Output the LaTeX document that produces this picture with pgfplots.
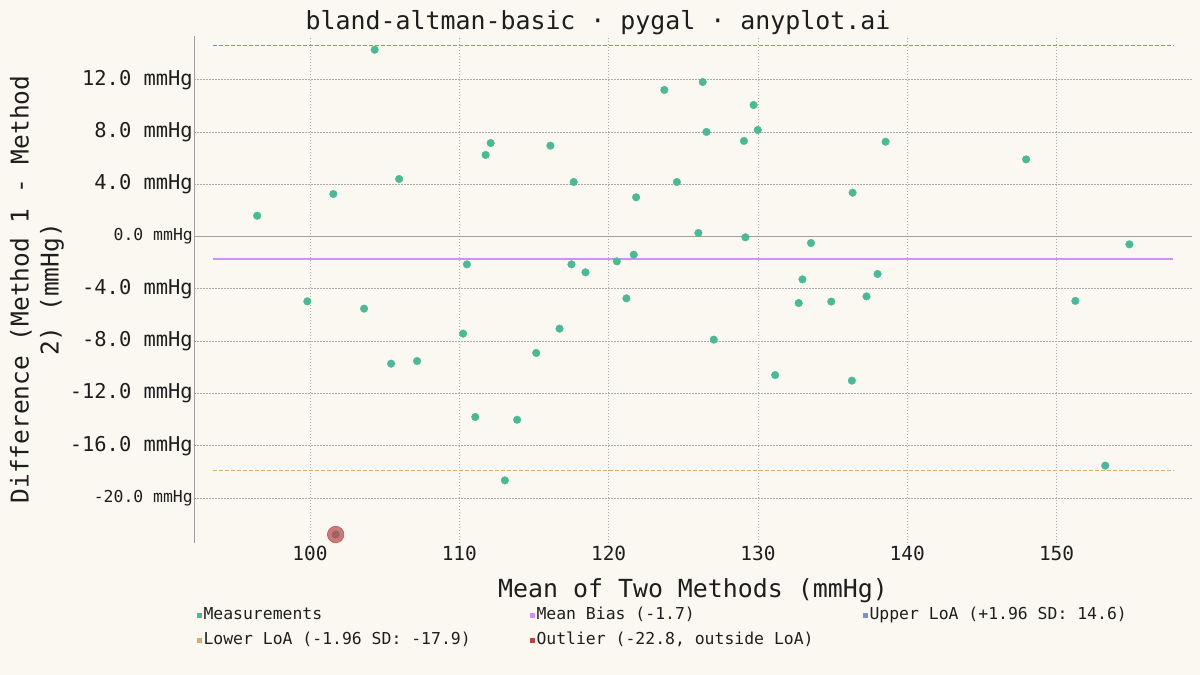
\documentclass[border=0pt]{standalone}
\usepackage{fontspec}
\setmainfont{DejaVu Sans Mono}
\usepackage{pgfplots}
\pgfplotsset{compat=1.18}

\definecolor{bg}{HTML}{FAF8F1}
\definecolor{ink}{HTML}{1E1E1E}
\definecolor{meas}{HTML}{4CB996}
\definecolor{bias}{HTML}{D090F5}
\definecolor{upper}{HTML}{7C93C0}
\definecolor{lower}{HTML}{D9AA72}
\definecolor{outl}{HTML}{B94444}
\definecolor{gridc}{HTML}{AAAAAA}
\definecolor{axisc}{HTML}{A0A0A0}

\newcommand\titlefont{\fontsize{25}{30}\selectfont}
\newcommand\ytickfont{\fontsize{20.5}{24}\selectfont}
\newcommand\ysmallfont{\fontsize{16.5}{20}\selectfont}
\newcommand\xtickfont{\fontsize{19.5}{24}\selectfont}
\newcommand\labfont{\fontsize{25}{30}\selectfont}
\newcommand\legfont{\fontsize{16.5}{20}\selectfont}

\begin{document}
\begin{tikzpicture}
\fill[bg] (0bp,0bp) rectangle (1200bp,675bp);
\node[anchor=base, font=\titlefont, text=ink] at (598bp,645bp)
  {bland-altman-basic · pygal · anyplot.ai};
\begin{axis}[
    at={(194bp,132bp)}, anchor=south west,
    width=998bp, height=507bp, scale only axis,
    xmin=92.23, xmax=159.07, ymin=-23.45, ymax=15.34,
    axis x line*=bottom, axis y line*=left,
    x axis line style={draw=none},
    y axis line style={draw=axisc, line width=1pt},
    major tick length=0pt,
    grid=major,
    grid style={draw=gridc, line width=0.8pt, dash pattern=on 1.5bp off 1.5bp},
    xtick={100,110,120,130,140,150},
    xticklabels={100,110,120,130,140,150},
    xticklabel style={font=\xtickfont, text=ink, anchor=base, inner sep=0pt, yshift=-17bp},
    ytick={-20,-16,-12,-8,-4,0,4,8,12},
    yticklabels={{\ysmallfont -20.0 mmHg},-16.0 mmHg,-12.0 mmHg,-8.0 mmHg,-4.0 mmHg,
                 {\ysmallfont 0.0 mmHg},4.0 mmHg,8.0 mmHg,12.0 mmHg},
    yticklabel style={font=\ytickfont, text=ink, anchor=east, inner sep=0pt, xshift=-1bp},
    xlabel={Mean of Two Methods (mmHg)},
    xlabel style={at={(axis description cs:0.5,0)}, anchor=base, inner sep=0pt,
                  yshift=-54bp, font=\labfont, text=ink},
    ylabel={Difference (Method 1 - Method\\2) (mmHg)},
    ylabel style={at={(axis description cs:-0.1573,0.5)}, anchor=center, align=center,
                  font=\fontsize{24.6}{30}\selectfont, text=ink},
    legend columns=3,
    legend cell align=left,
    legend style={at={(axis description cs:0,0)}, anchor=north west,
                  xshift=3bp, yshift=-64bp, draw=none, fill=none,
                  inner sep=0pt, outer sep=0pt, column sep=0pt, row sep=9bp,
                  font=\legfont, text=ink,
                  nodes={inner sep=0pt, text height=12bp, text depth=4bp}},
    legend image code/.code={
        \fill[#1, draw=none, fill opacity=1, dash pattern=on 1bp off 0bp]
          (0bp,-2.5bp) rectangle (5bp,2.5bp);},
]

% zero line
\addplot[forget plot, color=axisc, line width=1pt] coordinates {(92.23,0) (159.07,0)};

% measurements (outlier point included)
\addplot[only marks, mark=*, mark size=3.8bp, color=meas, mark options={draw=none}]
coordinates {
  (96.46,1.59) (101.56,3.25) (104.33,14.29) (105.97,4.40) (111.76,6.24)
  (112.10,7.15) (116.10,6.95) (117.66,4.17) (110.51,-2.13) (117.51,-2.13)
  (118.45,-2.74) (123.73,11.21) (126.30,11.82) (129.71,10.06) (126.55,8.00)
  (129.99,8.15) (129.06,7.31) (138.55,7.25) (147.96,5.90) (124.57,4.17)
  (121.84,3.00) (136.34,3.35) (126.01,0.27) (129.16,-0.06) (133.55,-0.50)
  (154.88,-0.60) (120.55,-1.90) (121.68,-1.39) (132.98,-3.28) (138.01,-2.87)
  (99.82,-4.96) (103.62,-5.52) (110.25,-7.43) (116.71,-7.05) (115.15,-8.91)
  (105.43,-9.73) (107.17,-9.53) (111.07,-13.81) (113.87,-14.02) (113.05,-18.66)
  (121.19,-4.73) (132.73,-5.09) (134.91,-4.98) (137.27,-4.58) (151.26,-4.93)
  (127.04,-7.89) (131.15,-10.60) (136.29,-11.03) (153.26,-17.53) (101.72,-22.80)
};
\addlegendentry{\makebox[328bp][l]{\hspace{1.5bp}Measurements}}

% mean bias
\addplot[color=bias, line width=1.6pt] coordinates {(93.5,-1.7) (157.8,-1.7)};
\addlegendentry{\makebox[328bp][l]{\hspace{1.5bp}Mean Bias (-1.7)}}

% upper LoA
\addplot[color=upper, line width=1.5pt, dash pattern=on 4bp off 2bp] coordinates {(93.5,14.6) (157.8,14.6)};
\addlegendentry{\makebox[328bp][l]{\hspace{1.5bp}Upper LoA (+1.96 SD: 14.6)}}

% lower LoA
\addplot[color=lower, line width=1.5pt, dash pattern=on 4bp off 2bp] coordinates {(93.5,-17.9) (157.8,-17.9)};
\addlegendentry{\makebox[328bp][l]{\hspace{1.5bp}Lower LoA (-1.96 SD: -17.9)}}

% outlier
\addplot[only marks, mark=*, mark size=8.3bp, color=outl, fill opacity=0.7,
         mark options={draw=none}] coordinates {(101.72,-22.80)};
\addlegendentry{\makebox[328bp][l]{\hspace{1.5bp}Outlier (-22.8, outside LoA)}}

\end{axis}
\end{tikzpicture}
\end{document}
